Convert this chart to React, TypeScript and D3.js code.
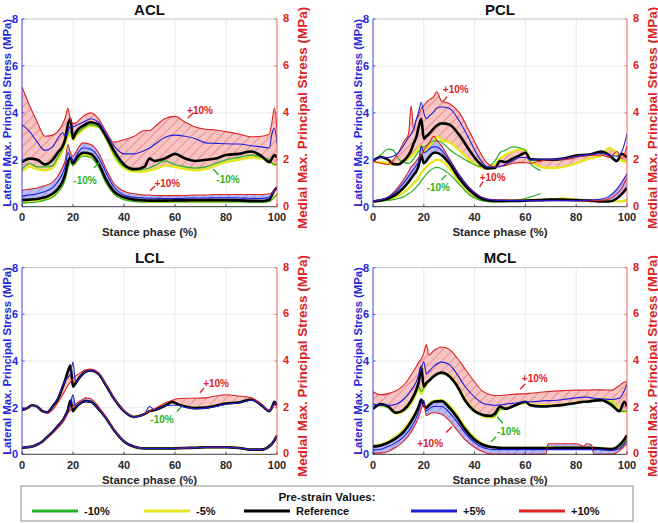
import React from 'react';
import * as d3 from 'd3';

// ---------- DATA ----------
const aclX = [0,3,6,9,12,14,16,17,18,19,20,21,22,24,27,30,33,36,40,44,48,50,52,56,60,64,68,72,76,80,85,90,94,97,98,99,100];
const aclUpP10 = [5.1,4.3,3.6,3.0,3.05,3.2,3.55,3.8,4.2,3.7,3.55,3.55,3.65,3.85,4.0,3.75,3.2,2.75,2.85,3.0,3.25,3.25,3.4,3.75,3.85,3.6,3.4,3.3,3.27,3.2,3.1,2.98,3.0,3.1,3.6,4.2,3.3];
const aclUpP5 = [3.5,3.2,2.75,2.4,2.55,2.9,3.15,3.0,3.2,3.45,3.4,3.45,3.5,3.6,3.75,3.6,3.1,2.6,2.25,2.25,2.4,2.5,2.65,2.95,3.05,3.0,2.9,2.72,2.7,2.68,2.67,2.6,2.55,2.5,3.1,3.35,2.7];
const aclUpRef = [1.9,2.05,2.0,1.8,2.0,2.3,2.6,2.9,3.5,3.75,2.9,3.15,3.3,3.45,3.6,3.5,3.0,2.4,1.8,1.6,1.7,2.05,1.95,2.05,2.25,2.05,1.95,2.0,2.05,2.2,2.25,2.35,2.15,1.9,2.05,2.2,2.1];
const aclUpM5 = [1.5,1.7,1.6,1.55,1.65,2.0,2.4,2.7,3.0,3.1,2.85,3.0,3.1,3.3,3.45,3.4,2.9,2.2,1.65,1.5,1.5,1.55,1.6,1.75,1.7,1.6,1.55,1.6,1.75,1.9,2.0,2.1,2.05,1.95,1.85,1.8,1.75];
const aclUpM10 = [1.6,1.85,1.7,1.7,1.75,2.1,2.5,2.8,3.1,3.2,2.95,3.05,3.15,3.35,3.5,3.4,2.9,2.25,1.7,1.55,1.6,1.65,1.75,1.95,1.8,1.7,1.65,1.7,1.85,2.0,2.1,2.2,2.1,2.0,1.85,1.8,1.8];
const aclLoP10 = [0.7,0.75,0.8,0.9,1.05,1.3,1.7,2.0,2.65,2.3,2.15,2.3,2.5,2.72,2.65,2.3,1.6,1.0,0.66,0.55,0.5,0.5,0.48,0.47,0.47,0.48,0.5,0.5,0.52,0.52,0.52,0.52,0.52,0.55,0.6,0.7,0.85];
const aclLoP5 = [0.45,0.5,0.55,0.65,0.8,1.05,1.45,1.75,2.3,2.1,1.95,2.1,2.3,2.5,2.45,2.1,1.45,0.85,0.5,0.4,0.37,0.36,0.36,0.35,0.35,0.36,0.37,0.37,0.38,0.38,0.37,0.36,0.35,0.4,0.5,0.65,0.85];
const aclLoRef = [0.28,0.3,0.33,0.4,0.55,0.75,1.1,1.4,1.9,2.1,1.85,2.0,2.15,2.3,2.25,1.85,1.15,0.65,0.4,0.3,0.27,0.26,0.26,0.26,0.27,0.27,0.28,0.28,0.28,0.28,0.27,0.25,0.24,0.3,0.5,0.7,0.8];
const aclLoM5 = [0.2,0.22,0.26,0.33,0.45,0.65,0.95,1.25,1.7,1.95,1.8,1.9,2.05,2.2,2.15,1.75,1.05,0.58,0.33,0.25,0.22,0.22,0.22,0.22,0.22,0.22,0.22,0.22,0.22,0.22,0.22,0.2,0.2,0.25,0.35,0.45,0.55];
const aclLoM10 = [0.15,0.17,0.2,0.28,0.4,0.6,0.9,1.2,1.65,1.9,1.75,1.85,2.0,2.15,2.1,1.7,1.0,0.55,0.3,0.22,0.2,0.2,0.2,0.2,0.2,0.2,0.2,0.2,0.2,0.2,0.2,0.18,0.18,0.22,0.3,0.4,0.5];

const pclX = [0,3,6,8,10,12,14,15,16,17,18,19,20,21,22,24,25,27,30,34,38,42,45,48,50,52,55,58,60,62,66,70,75,80,85,90,93,96,98,100];
const pclUpP10 = [1.95,1.85,1.8,2.0,2.3,2.75,3.1,4.3,3.3,3.7,3.9,4.2,4.3,4.45,4.55,4.7,4.9,4.5,4.4,4.0,3.2,2.35,1.85,1.7,1.72,1.75,1.85,1.88,1.88,1.85,1.95,2.0,2.0,2.1,2.2,2.2,2.1,2.35,2.05,2.6];
const pclUpP5 = [1.95,2.1,2.1,2.15,2.3,2.6,2.95,3.1,3.3,3.7,4.05,4.45,4.0,3.75,3.85,4.05,4.2,4.25,4.2,3.65,2.85,2.05,1.7,1.68,1.7,1.8,1.95,2.1,2.1,2.0,2.02,2.02,2.05,2.15,2.22,2.27,2.2,2.15,2.35,3.1];
const pclUpRef = [1.95,2.12,2.0,1.82,1.8,1.95,2.2,2.4,2.7,2.95,3.4,3.75,2.9,3.0,3.1,3.35,3.45,3.55,3.5,3.05,2.4,1.85,1.63,1.65,1.95,1.9,2.05,2.2,2.3,2.02,2.0,2.0,2.05,2.18,2.22,2.35,2.2,1.95,2.25,2.1];
const pclUpM5 = [1.9,1.9,1.85,1.8,1.85,1.95,2.05,2.15,2.25,2.35,2.5,2.6,2.3,2.45,2.6,2.8,3.0,2.85,2.75,2.4,2.0,1.7,1.62,1.8,2.05,2.2,2.35,2.45,2.4,2.0,1.7,1.65,1.7,1.85,2.05,2.2,2.5,2.2,1.95,1.9];
const pclUpM10 = [1.95,2.2,2.45,2.4,2.05,1.9,1.85,1.9,2.05,2.2,2.35,2.45,2.55,2.6,2.7,2.8,2.82,2.75,2.45,2.15,1.9,1.72,1.7,1.95,2.3,2.4,2.55,2.5,2.4,1.85,1.55,null,null,null,null,null,null,null,null,null];
const pclLoP10 = [0.25,0.3,0.42,0.6,0.85,1.15,1.5,1.7,1.8,1.95,2.1,2.2,2.4,2.55,2.7,3.0,2.85,2.6,2.05,1.35,0.8,0.45,0.33,0.3,0.28,0.28,0.27,0.27,0.27,0.26,0.26,0.26,0.26,0.25,0.25,0.27,0.33,0.55,0.8,1.25];
const pclLoP5 = [0.25,0.3,0.4,0.55,0.75,1.0,1.3,1.45,1.6,1.75,1.95,2.6,2.3,2.35,2.45,2.55,2.55,2.4,2.0,1.35,0.8,0.45,0.33,0.28,0.27,0.27,0.26,0.26,0.26,0.26,0.26,0.26,0.26,0.26,0.28,0.33,0.45,0.75,1.05,1.4];
const pclLoRef = [0.22,0.27,0.35,0.45,0.6,0.8,1.05,1.2,1.35,1.5,1.75,2.2,1.85,1.95,2.1,2.3,2.3,2.2,1.85,1.2,0.7,0.38,0.28,0.25,0.25,0.25,0.25,0.25,0.26,0.27,0.28,0.3,0.3,0.28,0.26,0.22,0.22,0.35,0.55,0.8];
const pclLoM5 = [0.22,0.25,0.3,0.37,0.47,0.6,0.78,0.88,1.0,1.1,1.25,1.45,1.55,1.7,1.8,1.95,2.0,1.95,1.65,1.05,0.55,0.3,0.25,0.24,0.24,0.25,0.26,0.27,0.28,0.29,0.3,0.32,0.35,0.3,0.28,0.26,0.25,0.22,0.22,0.3];
const pclLoM10 = [0.22,0.24,0.27,0.3,0.35,0.42,0.55,0.62,0.72,0.82,0.95,1.1,1.25,1.38,1.5,1.65,1.68,1.62,1.4,0.95,0.5,0.28,0.22,0.2,0.2,0.22,0.25,0.3,0.35,0.42,0.55,null,null,null,null,null,null,null,null,null];

const lclX = [0,2,4,6,8,10,12,14,16,17,18,19,20,21,23,25,27,30,33,36,40,44,48,50,52,56,59,61,64,68,72,76,80,85,90,94,97,98,99,100];
const lclUpP10 = [1.9,1.98,2.1,2.04,1.85,1.75,1.9,2.2,2.55,2.75,2.95,3.1,3.25,3.35,3.5,3.62,3.65,3.5,3.0,2.45,1.88,1.6,1.72,1.85,1.95,2.2,2.32,2.38,2.4,2.4,2.42,2.5,2.55,2.5,2.42,2.15,1.88,2.0,2.1,2.05];
const lclUpP5 = [1.9,1.98,2.1,2.04,1.85,1.8,2.05,2.4,2.95,3.15,3.3,3.45,3.95,3.1,3.35,3.55,3.6,3.45,2.95,2.4,1.85,1.6,1.72,2.05,1.9,2.08,2.1,2.1,2.02,1.95,1.98,2.05,2.15,2.2,2.33,2.1,1.85,2.0,2.25,2.1];
const lclUpRef = [1.9,1.98,2.1,2.04,1.85,1.8,2.05,2.35,2.9,3.2,3.55,3.8,2.9,3.05,3.35,3.55,3.6,3.45,2.95,2.4,1.85,1.6,1.72,1.85,1.9,2.08,2.25,2.15,2.05,1.98,2.0,2.08,2.18,2.22,2.35,2.1,1.85,2.0,2.25,2.1];
const lclUpM5 = [1.9,1.98,2.1,2.04,1.85,1.8,2.05,2.35,2.9,3.2,3.5,3.75,2.9,3.05,3.35,3.55,3.6,3.45,2.95,2.4,1.85,1.6,1.72,1.85,1.9,2.08,2.22,2.15,2.05,1.98,2.0,2.08,2.18,2.22,2.35,2.1,1.85,2.0,2.2,2.1];
const lclUpM10 = [1.9,1.98,2.1,2.04,1.85,1.8,2.05,2.35,2.9,3.2,3.5,3.7,2.9,3.05,3.35,3.55,3.6,3.45,2.95,2.4,1.85,1.6,1.72,1.85,1.9,2.08,2.2,2.12,2.05,1.98,2.0,2.08,2.18,2.22,2.35,2.1,1.85,2.0,2.2,2.1];
const lclLoP10 = [0.28,0.3,0.33,0.42,0.55,0.72,0.9,1.12,1.38,1.55,1.75,1.9,2.05,2.15,2.3,2.42,2.38,2.05,1.6,1.08,0.56,0.32,0.25,0.25,0.25,0.25,0.25,0.26,0.27,0.28,0.3,0.3,0.3,0.27,0.2,0.2,0.35,0.45,0.6,0.82];
const lclLoP5 = [0.28,0.3,0.33,0.42,0.55,0.75,0.95,1.2,1.45,1.65,1.9,2.2,2.55,2.05,2.2,2.28,2.25,1.95,1.55,1.05,0.55,0.32,0.25,0.25,0.25,0.25,0.25,0.26,0.27,0.28,0.3,0.3,0.3,0.27,0.2,0.2,0.35,0.45,0.6,0.8];
const lclLoRef = [0.28,0.3,0.33,0.42,0.55,0.75,0.95,1.2,1.45,1.65,1.9,2.3,1.85,2.0,2.2,2.28,2.25,1.95,1.55,1.05,0.55,0.32,0.25,0.25,0.25,0.25,0.25,0.26,0.27,0.28,0.3,0.3,0.3,0.27,0.2,0.2,0.35,0.45,0.6,0.8];
const lclLoM5 = [0.28,0.3,0.33,0.42,0.55,0.75,0.95,1.2,1.45,1.65,1.9,2.25,1.85,2.0,2.2,2.28,2.25,1.95,1.55,1.05,0.55,0.32,0.25,0.25,0.25,0.25,0.25,0.26,0.27,0.28,0.3,0.3,0.3,0.27,0.2,0.2,0.35,0.45,0.6,0.8];
const lclLoM10 = [0.28,0.3,0.33,0.42,0.55,0.75,0.95,1.2,1.45,1.65,1.9,2.2,1.85,2.0,2.2,2.28,2.25,1.95,1.55,1.05,0.55,0.32,0.25,0.25,0.25,0.25,0.25,0.26,0.27,0.28,0.3,0.3,0.3,0.27,0.2,0.2,0.35,0.45,0.6,0.8];

const mclX = [0,3,6,9,12,15,17,18,19,20,21,22,24,27,30,33,36,40,43,46,48,50,52,56,60,62,66,68,69,75,80,83,84,86,87,90,94,97,99,100];
const mclUpP10 = [2.68,2.55,2.6,2.72,2.95,3.4,3.75,3.95,4.1,4.35,4.7,4.25,4.45,4.6,4.5,4.15,3.7,3.1,2.72,2.56,2.52,2.52,2.54,2.58,2.6,2.62,2.66,2.68,2.69,2.73,2.75,2.75,2.75,2.76,2.76,2.76,2.75,2.95,3.1,3.12];
const mclUpP5 = [2.15,2.1,2.1,2.15,2.35,2.75,3.1,3.4,3.7,3.97,3.45,3.55,3.78,3.95,3.85,3.45,2.95,2.45,2.2,2.12,2.1,2.12,2.15,2.2,2.25,2.25,2.28,2.3,2.3,2.35,2.42,2.45,2.45,2.42,2.4,2.38,2.35,2.4,2.75,3.0];
const mclUpRef = [1.95,2.15,2.05,1.78,1.9,2.3,2.75,3.1,3.75,2.9,3.05,3.15,3.35,3.5,3.35,2.95,2.35,1.85,1.7,1.65,1.75,2.05,1.95,2.1,2.25,2.1,2.05,2.05,2.06,2.12,2.2,2.25,2.25,2.28,2.3,2.32,2.1,1.85,2.25,2.05];
const mclUpM5 = [2.05,2.1,2.0,1.75,1.85,2.2,2.6,2.8,2.6,2.8,3.0,3.15,3.35,3.48,3.4,3.0,2.4,1.9,1.65,1.58,1.62,1.9,1.95,2.1,2.2,2.15,2.1,2.1,2.1,2.15,2.22,2.25,2.26,2.28,2.3,2.38,2.3,1.9,1.82,1.85];
const mclUpM10 = [2.0,2.1,2.0,1.76,1.87,2.25,2.65,2.9,2.7,2.85,3.02,3.15,3.35,3.5,3.38,2.98,2.38,1.88,1.67,1.6,1.65,1.95,1.95,2.1,2.22,2.12,2.08,2.08,2.08,2.13,2.2,2.25,2.25,2.28,2.3,2.35,2.2,1.85,1.85,1.88];
const mclLoP10 = [0.05,0.05,0.12,0.3,0.55,0.95,1.35,1.6,1.95,2.15,1.65,1.72,1.78,1.72,1.45,1.05,0.65,0.3,0.12,0.02,0,0,0,0,0,0,0,0.02,0.45,0.45,0.45,0.35,0.45,0.4,0.0,0.0,0.0,0.15,0.35,0.45];
const mclLoP5 = [0.18,0.22,0.33,0.5,0.75,1.15,1.55,1.85,2.2,2.3,1.85,1.95,2.05,2.05,1.8,1.4,0.95,0.5,0.3,0.22,0.2,0.2,0.2,0.2,0.2,0.2,0.2,0.2,0.2,0.2,0.2,0.2,0.2,0.2,0.2,0.19,0.17,0.25,0.45,0.6];
const mclLoRef = [0.33,0.38,0.5,0.68,0.95,1.4,1.8,2.05,2.35,2.1,2.0,2.1,2.25,2.28,2.0,1.6,1.1,0.62,0.42,0.32,0.3,0.28,0.27,0.27,0.27,0.27,0.27,0.27,0.27,0.28,0.28,0.28,0.28,0.27,0.27,0.25,0.22,0.4,0.65,0.82];
const mclLoM5 = [0.38,0.42,0.55,0.75,1.05,1.5,1.85,2.05,2.2,2.05,2.05,2.15,2.3,2.32,2.1,1.7,1.2,0.7,0.45,0.34,0.3,0.28,0.28,0.28,0.28,0.28,0.28,0.28,0.28,0.28,0.28,0.28,0.28,0.28,0.28,0.26,0.24,0.35,0.55,0.7];
const mclLoM10 = [0.36,0.4,0.53,0.72,1.0,1.45,1.82,2.02,2.2,2.05,2.02,2.12,2.28,2.3,2.05,1.65,1.15,0.66,0.44,0.33,0.29,0.27,0.27,0.27,0.27,0.27,0.27,0.27,0.27,0.27,0.27,0.27,0.27,0.27,0.27,0.25,0.23,0.33,0.5,0.65];

const xTicks = [0, 20, 40, 60, 80, 100];
const yTicks = [0, 2, 4, 6, 8];
const legendLabels = ['-10%', '-5%', 'Reference', '+5%', '+10%'];

// annotations in data units: text, colour key, text pos, leader line
const aclNotes = [
  { t: '+10%', k: 'r', x: 69.8, y: 4.12, l: [65.0, 3.77, 67.2, 4.0] },
  { t: '-10%', k: 'g', x: 24.7, y: 1.11, l: [28.3, 1.66, 30.3, 1.88] },
  { t: '-10%', k: 'g', x: 80.8, y: 1.14, l: [75.0, 1.61, 77.0, 1.36] },
  { t: '+10%', k: 'r', x: 57.0, y: 1.0, l: [50.2, 0.68, 52.2, 0.88] },
];
const pclNotes = [
  { t: '+10%', k: 'r', x: 32.6, y: 4.99, l: [27.5, 4.48, 29.2, 4.69] },
  { t: '+10%', k: 'r', x: 47.1, y: 1.24, l: [42.0, 0.85, 43.3, 1.07] },
  { t: '-10%', k: 'g', x: 25.7, y: 0.8, l: [26.9, 1.14, 28.8, 1.35] },
];
const lclNotes = [
  { t: '+10%', k: 'r', x: 76.1, y: 3.03, l: [69.8, 2.64, 71.4, 2.85] },
  { t: '-10%', k: 'g', x: 54.9, y: 1.48, l: [60.7, 1.83, 62.6, 2.04] },
];
const mclNotes = [
  { t: '+10%', k: 'r', x: 63.7, y: 3.24, l: [57.9, 2.79, 59.9, 3.01] },
  { t: '-10%', k: 'g', x: 53.4, y: 0.97, l: [48.9, 1.61, 51.1, 1.33] },
  { t: '', k: 'g', x: 0, y: 0, l: [46.5, 0.54, 48.5, 0.75] },
  { t: '+10%', k: 'r', x: 22.5, y: 0.48, l: [28.8, 0.93, 31.1, 1.18] },
];

// ---------- STYLE ----------
const FONT = "'Liberation Sans', Arial, Helvetica, sans-serif";
const COL: Record<string, string> = { g: '#27b327', y: '#e6e61e', k: '#000000', b: '#1e1ed8', r: '#e02222' };

type Series = { m10: (number | null)[]; m5: (number | null)[]; ref: number[]; p5: number[]; p10: number[] };

const panels = [
  { id: 'acl', title: 'ACL', X: aclX, l: 22, r: 277, t: 19, b: 206.7,
    up: { m10: aclUpM10, m5: aclUpM5, ref: aclUpRef, p5: aclUpP5, p10: aclUpP10 },
    lo: { m10: aclLoM10, m5: aclLoM5, ref: aclLoRef, p5: aclLoP5, p10: aclLoP10 }, notes: aclNotes },
  { id: 'pcl', title: 'PCL', X: pclX, l: 373, r: 627, t: 19, b: 206.7,
    up: { m10: pclUpM10, m5: pclUpM5, ref: pclUpRef, p5: pclUpP5, p10: pclUpP10 },
    lo: { m10: pclLoM10, m5: pclLoM5, ref: pclLoRef, p5: pclLoP5, p10: pclLoP10 }, notes: pclNotes },
  { id: 'lcl', title: 'LCL', X: lclX, l: 22, r: 277, t: 267.7, b: 454.3,
    up: { m10: lclUpM10, m5: lclUpM5, ref: lclUpRef, p5: lclUpP5, p10: lclUpP10 },
    lo: { m10: lclLoM10, m5: lclLoM5, ref: lclLoRef, p5: lclLoP5, p10: lclLoP10 }, notes: lclNotes },
  { id: 'mcl', title: 'MCL', X: mclX, l: 373, r: 627, t: 267.7, b: 454.3,
    up: { m10: mclUpM10, m5: mclUpM5, ref: mclUpRef, p5: mclUpP5, p10: mclUpP10 },
    lo: { m10: mclLoM10, m5: mclLoM5, ref: mclLoRef, p5: mclLoP5, p10: mclLoP10 }, notes: mclNotes },
];

function Panel({ p }: { p: any }) {
  const x = d3.scaleLinear().domain([0, 100]).range([p.l, p.r]);
  const y = d3.scaleLinear().domain([0, 8]).range([p.b, p.t]);
  const idx = d3.range(p.X.length);
  const mkLine = (vals: (number | null)[]) =>
    d3.line<number>()
      .defined((i) => vals[i] != null)
      .x((i) => x(p.X[i]))
      .y((i) => y(vals[i] as number))
      .curve(d3.curveMonotoneX)(idx) || '';
  const mkArea = (sets: (number | null)[][]) =>
    d3.area<number>()
      .x((i) => x(p.X[i]))
      .y0((i) => y(d3.min(sets, (s) => s[i] as number) as number))
      .y1((i) => y(d3.max(sets, (s) => s[i] as number) as number))
      .curve(d3.curveMonotoneX)(idx) || '';
  const groups: Series[] = [p.up, p.lo];
  const midY = (p.t + p.b) / 2;
  const clipId = `clip-${p.id}`;
  const drawSeries = (s: Series, key: string) => (
    <g key={key}>
      <path d={mkLine(s.m5)} fill="none" stroke={COL.y} strokeWidth={2.4} />
      <path d={mkLine(s.m10)} fill="none" stroke={COL.g} strokeWidth={1.2} />
      <path d={mkLine(s.ref)} fill="none" stroke={COL.k} strokeWidth={2.6} />
      <path d={mkLine(s.p10)} fill="none" stroke={COL.r} strokeWidth={1.1} />
      <path d={mkLine(s.p5)} fill="none" stroke={COL.b} strokeWidth={1.1} />
    </g>
  );
  return (
    <g>
      <defs>
        <clipPath id={clipId}>
          <rect x={p.l} y={p.t} width={p.r - p.l} height={p.b - p.t + 1} />
        </clipPath>
      </defs>
      {xTicks.slice(1, -1).map((v) => (
        <line key={'gx' + v} x1={x(v)} x2={x(v)} y1={p.t} y2={p.b} stroke="#e4e4e8" strokeWidth={0.8} />
      ))}
      {yTicks.slice(1, -1).map((v) => (
        <line key={'gy' + v} x1={p.l} x2={p.r} y1={y(v)} y2={y(v)} stroke="#e4e4e8" strokeWidth={0.8} />
      ))}
      <g clipPath={`url(#${clipId})`}>
        <path d={mkArea([p.up.p10, p.up.m5])} fill="url(#hatchRed)" />
        <path d={mkArea([p.lo.p10, p.lo.p5, p.lo.ref])} fill="url(#hatchBlue)" />
        {groups.map((s, i) => drawSeries(s, 'g' + i))}
      </g>
      <line x1={p.l} x2={p.r} y1={p.t} y2={p.t} stroke="#b5b5b5" strokeWidth={0.8} />
      <line x1={p.l} x2={p.r} y1={p.b} y2={p.b} stroke="#262626" strokeWidth={0.9} />
      <line x1={p.l} x2={p.l} y1={p.t} y2={p.b} stroke="#2a2ad8" strokeWidth={0.9} />
      <line x1={p.r} x2={p.r} y1={p.t} y2={p.b} stroke="#e85050" strokeWidth={0.9} />
      {xTicks.map((v) => (
        <g key={'xt' + v}>
          <line x1={x(v)} x2={x(v)} y1={p.b} y2={p.b - 2.5} stroke="#262626" strokeWidth={0.8} />
          <text x={x(v)} y={p.b + 10.5} textAnchor="middle" dominantBaseline="central"
            fontFamily={FONT} fontWeight={700} fontSize={11} fill="#262626">{v}</text>
        </g>
      ))}
      {yTicks.map((v) => (
        <g key={'yt' + v}>
          <line x1={p.l} x2={p.l + 2.5} y1={y(v)} y2={y(v)} stroke="#2a2ad8" strokeWidth={0.8} />
          <line x1={p.r} x2={p.r - 2.5} y1={y(v)} y2={y(v)} stroke="#e85050" strokeWidth={0.8} />
          <text x={p.l - 4} y={y(v)} textAnchor="end" dominantBaseline="central"
            fontFamily={FONT} fontWeight={700} fontSize={11} fill="#2626d9">{v}</text>
          <text x={p.r + 6} y={y(v) - 1} textAnchor="start" dominantBaseline="central"
            fontFamily={FONT} fontWeight={700} fontSize={11} fill="#e02020">{v}</text>
        </g>
      ))}
      <text x={(p.l + p.r) / 2} y={p.t - 10} textAnchor="middle" dominantBaseline="central"
        fontFamily={FONT} fontWeight={700} fontSize={15} fill="#111">{p.title}</text>
      <text x={(p.l + p.r) / 2} y={p.b + 25.5} textAnchor="middle" dominantBaseline="central"
        fontFamily={FONT} fontWeight={700} fontSize={11.5} fill="#262626">Stance phase (%)</text>
      <text transform={`translate(${p.l - 15},${midY}) rotate(-90)`} textAnchor="middle" dominantBaseline="central"
        fontFamily={FONT} fontWeight={700} fontSize={11.3} fill="#2626d9">Lateral Max. Principal Stress (MPa)</text>
      <text transform={`translate(${p.r + 25},${midY + 5}) rotate(-90)`} textAnchor="middle" dominantBaseline="central"
        fontFamily={FONT} fontWeight={700} fontSize={13.5} fill="#e02020">Medial Max. Principal Stress (MPa)</text>
      {p.notes.map((n: any, i: number) => (
        <g key={'n' + i}>
          <line x1={x(n.l[0])} y1={y(n.l[1])} x2={x(n.l[2])} y2={y(n.l[3])} stroke={COL[n.k]} strokeWidth={1.4} />
          {n.t && (
            <text x={x(n.x)} y={y(n.y)} textAnchor="middle" dominantBaseline="central"
              fontFamily={FONT} fontWeight={700} fontSize={10} fill={COL[n.k]}>{n.t}</text>
          )}
        </g>
      ))}
    </g>
  );
}

export default function App() {
  const legendKeys = ['g', 'y', 'k', 'b', 'r'];
  const legendX = [32, 144, 244, 411, 519];
  return (
    <svg width={658} height={523} style={{ position: 'absolute', left: 0, top: 0, background: '#fff' }}>
      <defs>
        <pattern id="hatchRed" patternUnits="userSpaceOnUse" width={7} height={7} patternTransform="rotate(45)">
          <rect width={7} height={7} fill="#f7c4c4" />
          <line x1={0} y1={0} x2={0} y2={7} stroke="#e05656" strokeWidth={1} />
        </pattern>
        <pattern id="hatchBlue" patternUnits="userSpaceOnUse" width={6} height={6} patternTransform="rotate(45)">
          <rect width={6} height={6} fill="#b9bcf2" />
          <line x1={0} y1={0} x2={0} y2={6} stroke="#6a6ae0" strokeWidth={0.9} />
        </pattern>
      </defs>
      <rect x={0} y={0} width={658} height={523} fill="#fff" />
      {panels.map((p) => <Panel key={p.id} p={p} />)}
      <rect x={21} y={486} width={612} height={35} fill="#fff" stroke="#8c8c8c" strokeWidth={1} />
      <text x={327} y={497} textAnchor="middle" dominantBaseline="central"
        fontFamily={FONT} fontWeight={700} fontSize={11.5} fill="#111">Pre-strain Values:</text>
      {legendLabels.map((lab, i) => (
        <g key={lab}>
          <line x1={legendX[i]} x2={legendX[i] + 46} y1={511} y2={511} stroke={COL[legendKeys[i]]} strokeWidth={3} />
          <text x={legendX[i] + 52} y={511} dominantBaseline="central"
            fontFamily={FONT} fontWeight={700} fontSize={11} fill="#111">{lab}</text>
        </g>
      ))}
    </svg>
  );
}
